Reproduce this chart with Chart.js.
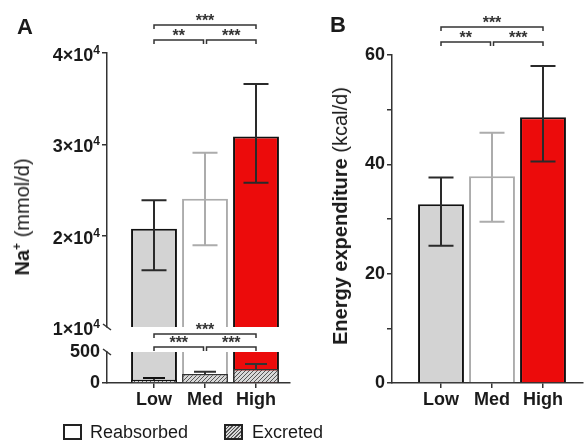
<!DOCTYPE html>
<html><head><meta charset="utf-8">
<script src="https://cdn.jsdelivr.net/npm/chart.js@4.4.1/dist/chart.umd.min.js"></script>
<style>
html,body{margin:0;padding:0;background:#fff;}
#wrap{position:relative;width:584px;height:443px;overflow:hidden;font-family:"Liberation Sans",Arial,sans-serif;color:#1a1a1a;}
canvas{position:absolute;left:0;top:0;}
.lbl{position:absolute;font-weight:bold;font-size:22px;line-height:22px;}
.ytitle{position:absolute;font-size:20px;line-height:20px;white-space:nowrap;transform:translate(-50%,-50%) rotate(-90deg);}
.ytitle sup{font-size:12px;line-height:0;vertical-align:8px;}
.leg{position:absolute;font-size:18px;line-height:18px;white-space:nowrap;}
.box{position:absolute;box-sizing:border-box;border:2px solid #222;}
</style></head>
<body><div id="wrap">
<canvas id="cAtop" width="584" height="443"></canvas>
<canvas id="cAbot" width="584" height="443"></canvas>
<canvas id="cB" width="584" height="443"></canvas>
<div class="lbl" style="left:17px;top:16px">A</div>
<div class="lbl" style="left:330px;top:14px">B</div>
<div class="ytitle" style="left:22px;top:217px"><b>Na<sup>+</sup></b> (mmol/d)</div>
<div class="ytitle" style="left:340px;top:216px"><b>Energy expenditure</b> (kcal/d)</div>
<div class="box" style="left:63px;top:424px;width:19px;height:16px;background:#fff"></div>
<div class="leg" style="left:90px;top:423px">Reabsorbed</div>
<div class="box" style="left:224px;top:424px;width:19px;height:16px;background:repeating-linear-gradient(135deg,#d8d8d8 0 1.5px,#555 1.5px 2.5px)"></div>
<div class="leg" style="left:252px;top:423px">Excreted</div>
</div>
<script>
// ---------- data ----------
const categories = ['Low', 'Med', 'High'];

// Panel A: Na+ (mmol/d) - filtered total with SD bars
const naTotal = [20760, 24030, 30860];
const naTotalErrLow = [16220, 18940, 25800];
const naTotalErrHigh = [23880, 29080, 36600];
// Panel A: excreted Na+ (mmol/d)
const naExcreted = [53, 145, 226];
const naExcretedErrHigh = [80, 182, 306];

// Panel B: energy expenditure (kcal/d)
const energy = [32.7, 37.8, 48.6];
const energyErrLow = [25.1, 29.5, 40.5];
const energyErrHigh = [37.6, 45.8, 58.0];

// tick values
const naUpperTicks = [10000, 20000, 30000, 40000];
const naLowerTicks = [0, 500];
const energyTicks = [0, 10, 20, 30, 40, 50, 60];

// significance
const sigA = [
  {from: 'Low', to: 'High', label: '***', level: 2},
  {from: 'Low', to: 'Med', label: '**', level: 1},
  {from: 'Med', to: 'High', label: '***', level: 1}
];
const sigAExcreted = [
  {from: 'Low', to: 'High', label: '***', level: 2},
  {from: 'Low', to: 'Med', label: '***', level: 1},
  {from: 'Med', to: 'High', label: '***', level: 1}
];
const sigB = [
  {from: 'Low', to: 'High', label: '***', level: 2},
  {from: 'Low', to: 'Med', label: '**', level: 1},
  {from: 'Med', to: 'High', label: '***', level: 1}
];

// ---------- styles ----------
const FONT = '"Liberation Sans", Arial, sans-serif';
Chart.defaults.font.family = FONT;
Chart.defaults.color = '#1a1a1a';
const fills = ['#d3d3d3', '#ffffff', '#ec0b0b'];
const borders = ['#111111', '#acacac', '#111111'];
const errColors = ['#2a2a2a', '#acacac', '#2a2a2a'];
const AX = '#333333';

function makeHatch() {
  const c = document.createElement('canvas'); c.width = 4; c.height = 4;
  const g = c.getContext('2d');
  g.fillStyle = '#d8d8d8'; g.fillRect(0, 0, 4, 4);
  g.strokeStyle = '#555'; g.lineWidth = 1;
  g.beginPath();
  g.moveTo(0, 4); g.lineTo(4, 0);
  g.moveTo(-1, 1); g.lineTo(1, -1);
  g.moveTo(3, 5); g.lineTo(5, 3);
  g.stroke();
  return g.createPattern(c, 'repeat');
}
const hatch = makeHatch();

function toXY(vals) { return categories.map((c, i) => ({x: i + 1, y: vals[i]})); }

function xScale(display, minV, maxV) {
  return {
    type: 'linear', display: display, min: minV, max: maxV, offset: false,
    afterBuildTicks: s => { s.ticks = categories.map((c, i) => ({value: i + 1})); },
    ticks: {callback: (v, i) => categories[i], font: {size: 18, weight: 'bold'}, padding: 1, maxRotation: 0, autoSkip: false},
    grid: {offset: false, drawOnChartArea: false, drawTicks: true, tickLength: 5, color: AX, lineWidth: 1.5},
    border: {display: true, color: AX, width: 1.5},
    afterFit: s => { s.height = display ? 30 : 0; }
  };
}
function yScale(minV, maxV, tickVals, fmt, hideTick, showLabels) {
  return {
    type: 'linear', min: minV, max: maxV,
    afterBuildTicks: s => { s.ticks = tickVals.map(v => ({value: v})); },
    ticks: {display: showLabels, callback: fmt, font: {size: 18, weight: 'bold'}, padding: 2},
    grid: {drawOnChartArea: false, drawTicks: true, tickLength: 5, lineWidth: 1.5,
      color: ctx => (ctx.tick && ctx.tick.value === hideTick) ? 'rgba(0,0,0,0)' : AX},
    border: {display: true, color: AX, width: 1.5},
    afterFit: s => { s.width = 60; }
  };
}

// draws "n×10⁴" tick labels of a scale with a raised exponent
const SUP = {'⁰': '0', '¹': '1', '²': '2', '³': '3', '⁴': '4', '⁵': '5', '⁶': '6', '⁷': '7', '⁸': '8', '⁹': '9'};
function sciTickLabels() {
  return {id: 'scilabels', afterDraw(chart) {
    const ctx = chart.ctx, ys = chart.scales.y;
    ctx.save();
    ctx.fillStyle = '#1a1a1a'; ctx.textAlign = 'right'; ctx.textBaseline = 'alphabetic';
    ys.ticks.forEach(t => {
      const label = String(ys.options.ticks.callback(t.value));
      const last = label.slice(-1);
      const main = SUP[last] ? label.slice(0, -1) : label;
      const sup = SUP[last] || '';
      const y = ys.getPixelForValue(t.value);
      const xr = ys.right - 7;
      ctx.font = 'bold 12px ' + FONT;
      const sw = ctx.measureText(sup).width;
      ctx.fillText(sup, xr, y + 1);
      ctx.font = 'bold 18px ' + FONT;
      ctx.fillText(main, xr - sw, y + 8);
    });
    ctx.restore();
  }};
}

function errorBars(series) {
  return {id: 'errbars', afterDatasetsDraw(chart) {
    const ctx = chart.ctx, y = chart.scales.y;
    series.forEach(s => {
      const meta = chart.getDatasetMeta(s.ds);
      meta.data.forEach((bar, i) => {
        const x = bar.x;
        const yHi = y.getPixelForValue(s.hi[i]);
        const yLo = s.lo ? y.getPixelForValue(s.lo[i]) : bar.y;
        ctx.save();
        ctx.strokeStyle = s.colors[i]; ctx.lineWidth = 2;
        ctx.beginPath();
        ctx.moveTo(x, yLo); ctx.lineTo(x, yHi);
        ctx.moveTo(x - s.cap, yHi); ctx.lineTo(x + s.cap, yHi);
        if (s.lo) { ctx.moveTo(x - s.cap, yLo); ctx.lineTo(x + s.cap, yLo); }
        ctx.stroke();
        ctx.restore();
      });
    });
  }};
}

function brackets(list, offs) {
  return {id: 'brackets', afterDraw(chart) {
    const ctx = chart.ctx, xs = chart.scales.x, top = chart.chartArea.top;
    ctx.save();
    ctx.strokeStyle = AX; ctx.fillStyle = '#333'; ctx.lineWidth = 1.5;
    ctx.font = 'bold 16px ' + FONT; ctx.textAlign = 'center'; ctx.textBaseline = 'alphabetic';
    list.forEach(b => {
      const i1 = categories.indexOf(b.from), i2 = categories.indexOf(b.to);
      let x1 = xs.getPixelForValue(i1 + 1), x2 = xs.getPixelForValue(i2 + 1);
      if (b.level === 1) {
        if (i1 > 0) x1 += 1.5;
        if (i2 < categories.length - 1) x2 -= 1.5;
      }
      const yl = top - offs[b.level - 1];
      ctx.beginPath();
      ctx.moveTo(x1, yl + 4); ctx.lineTo(x1, yl); ctx.lineTo(x2, yl); ctx.lineTo(x2, yl + 4);
      ctx.stroke();
      ctx.fillText(b.label, (x1 + x2) / 2, yl + 1);
    });
    ctx.restore();
  }};
}

function axisBreak(where) {
  return {id: 'axbreak', afterDraw(chart) {
    const ctx = chart.ctx, a = chart.chartArea;
    const x = a.left;
    const y = where === 'bottom' ? a.bottom : a.top;
    ctx.save(); ctx.strokeStyle = AX; ctx.lineWidth = 1.5;
    ctx.beginPath(); ctx.moveTo(x - 4, y - 3); ctx.lineTo(x + 4, y + 3); ctx.stroke();
    ctx.restore();
  }};
}

const barOpts = {barPercentage: 0.9, categoryPercentage: 1.0, grouped: false, clip: 0, borderSkipped: 'start'};
const common = {responsive: false, animation: false, events: [],
  plugins: {legend: {display: false}, tooltip: {enabled: false}}};

// ---------- Panel A, upper segment ----------
new Chart(document.getElementById('cAtop'), {
  type: 'bar',
  data: {datasets: [Object.assign({label: 'Na+ filtered', data: toXY(naTotal),
    backgroundColor: fills, borderColor: borders, borderWidth: 2}, barOpts)]},
  options: Object.assign({}, common, {
    layout: {padding: {left: 47, right: 294, top: 53, bottom: 116}},
    scales: {
      x: xScale(false, 1 - 47 / 51, 3 + 34 / 51),
      y: yScale(10000, 40000, naUpperTicks, v => (v / 10000) + '×10⁴', 10000, false)
    }
  }),
  plugins: [
    errorBars([{ds: 0, lo: naTotalErrLow, hi: naTotalErrHigh, colors: errColors, cap: 12.5}]),
    brackets(sigA, [13, 28]),
    axisBreak('bottom'),
    sciTickLabels()
  ]
});

// ---------- Panel A, lower segment ----------
new Chart(document.getElementById('cAbot'), {
  type: 'bar',
  data: {datasets: [
    Object.assign({label: 'Excreted', data: toXY(naExcreted),
      backgroundColor: hatch, borderColor: ['#111', '#333', '#333'], borderWidth: 1.5}, barOpts),
    Object.assign({label: 'Na+ filtered', data: toXY(naTotal),
      backgroundColor: fills, borderColor: borders, borderWidth: 2}, barOpts)
  ]},
  options: Object.assign({}, common, {
    layout: {padding: {left: 47, right: 294, top: 352, bottom: 30}},
    scales: {
      x: xScale(true, 1 - 47 / 51, 3 + 34 / 51),
      y: yScale(0, 500, naLowerTicks, v => String(v), 500, true)
    }
  }),
  plugins: [
    errorBars([{ds: 0, lo: null, hi: naExcretedErrHigh, colors: ['#111', '#333', '#333'], cap: 11}]),
    brackets(sigAExcreted, [5, 18]),
    axisBreak('top')
  ]
});

// ---------- Panel B ----------
new Chart(document.getElementById('cB'), {
  type: 'bar',
  data: {datasets: [Object.assign({label: 'Energy expenditure', data: toXY(energy),
    backgroundColor: fills, borderColor: borders, borderWidth: 2}, barOpts)]},
  options: Object.assign({}, common, {
    layout: {padding: {left: 332, right: 1, top: 55, bottom: 30}},
    scales: {
      x: xScale(true, 1 - 49 / 51, 3 + 40 / 51),
      y: yScale(0, 60, energyTicks, v => (v % 20 === 0 ? String(v) : ''), null, true)
    }
  }),
  plugins: [
    errorBars([{ds: 0, lo: energyErrLow, hi: energyErrHigh, colors: errColors, cap: 12.5}]),
    brackets(sigB, [13, 28])
  ]
});
</script>
</body></html>
